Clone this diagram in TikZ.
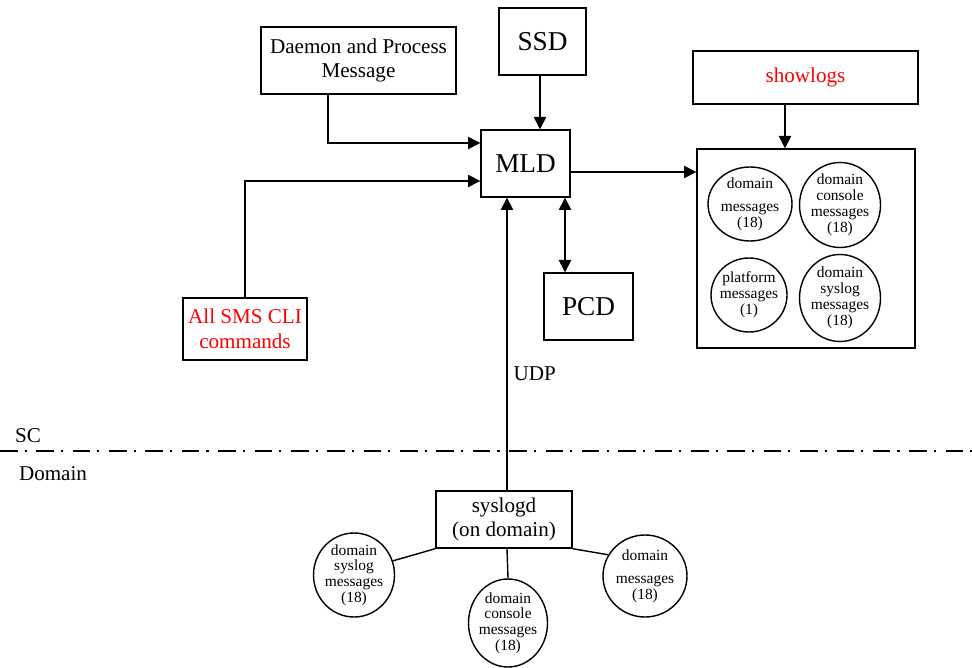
\documentclass[tikz,border=0pt]{standalone}
\usepackage{fontspec}
\setmainfont{Liberation Serif}
\usetikzlibrary{shapes.geometric,arrows.meta}

\begin{document}
\begin{tikzpicture}[x=0.02cm, y=-0.02cm,
  every node/.style={font=\fontsize{12}{14}\selectfont},
  box/.style={draw, thick, rectangle, align=center, inner sep=0pt},
  bigbox/.style={box, font=\fontsize{15.5}{18}\selectfont},
  msg/.style={draw, thick, ellipse, align=center, inner sep=-3pt,
    font=\fontsize{8.8}{9}\selectfont},
  arr/.style={thick, -{Triangle[length=7pt,width=7pt]}},
  link/.style={thick}]

  \useasboundingbox (0,0) rectangle (972,668);

  % SC side: processes feeding the MLD

  \node [box, minimum width=195*0.02cm, minimum height=67*0.02cm]
    (daemon) at (358.5,60.5) {Daemon and Process\\Message};
  \node [bigbox, minimum width=87*0.02cm, minimum height=67*0.02cm]
    (ssd) at (542.5,41.5) {SSD};
  \node [bigbox, minimum width=89*0.02cm, minimum height=67*0.02cm]
    (mld) at (525.5,163.5) {MLD};
  \node [bigbox, minimum width=89*0.02cm, minimum height=67*0.02cm]
    (pcd) at (588.5,306.5) {PCD};
  \node [box, text=red, minimum width=124*0.02cm, minimum height=62*0.02cm]
    (sms) at (245,329) {All SMS CLI\\commands};
  \node [box, text=red, minimum width=225*0.02cm, minimum height=53*0.02cm]
    (showlogs) at (805.5,77.5) {showlogs};

  % Log buffers kept by the MLD

  \node [box, minimum width=218*0.02cm, minimum height=199*0.02cm]
    (logs) at (806,248.5) {};
  \node [msg, minimum width=84*0.02cm, minimum height=74*0.02cm]
    (dmsg) at (750,204) {domain\\[4pt]messages\\(18)};
  \node [msg, minimum width=81*0.02cm, minimum height=85*0.02cm]
    (cmsg) at (840,205) {domain\\console\\messages\\(18)};
  \node [msg, minimum width=76*0.02cm, minimum height=74*0.02cm]
    (pmsg) at (749,295) {platform\\messages\\(1)};
  \node [msg, minimum width=81*0.02cm, minimum height=87*0.02cm]
    (smsg) at (840,298) {domain\\syslog\\messages\\(18)};

  % Boundary between SC and domain

  \node (sc) at (28,436) {SC};
  \node (dom) at (53,474) {Domain};
  \draw [thick, dash pattern=on 10pt off 4pt on 1.2pt off 5.5pt]
    (0,451) -- (972,451);

  % Domain side: syslogd and its messages

  \node [box, minimum width=136*0.02cm, minimum height=57*0.02cm]
    (syslogd) at (504,519.5) {syslogd\\(on domain)};
  \node [msg, minimum width=81*0.02cm, minimum height=84*0.02cm]
    (lsys) at (354,575) {domain\\syslog\\messages\\(18)};
  \node [msg, minimum width=79*0.02cm, minimum height=88*0.02cm]
    (lcon) at (508,623) {domain\\console\\messages\\(18)};
  \node [msg, minimum width=84*0.02cm, minimum height=82*0.02cm]
    (ldom) at (645,576) {domain\\[4pt]messages\\(18)};

  % Connections

  \draw [arr] ([xshift=-0.61cm]daemon.south) |- ([yshift=0.41cm]mld.west);
  \draw [arr] (sms.north) |- ([yshift=-0.35cm]mld.west);
  \draw [arr] ([xshift=-0.05cm]ssd.south) -- ([xshift=-0.05cm]ssd.south |- mld.north);
  \draw [arr] ([yshift=-0.17cm]mld.east) -- ([yshift=-0.17cm]mld.east -| logs.west);
  \draw [arr] ([xshift=-0.41cm]showlogs.south) -- ([xshift=-0.41cm]showlogs.south |- logs.north);
  \draw [arr, {Triangle[length=7pt,width=7pt]}-{Triangle[length=7pt,width=7pt]}]
    ([xshift=-0.47cm]pcd.north) -- ([xshift=-0.47cm]pcd.north |- mld.south);
  \draw [arr] ([xshift=0.06cm]syslogd.north) -- node [right, pos=0.4] (udp) {UDP}
    ([xshift=0.06cm]syslogd.north |- mld.south);

  \draw [link] (syslogd.south west) -- (lsys.20);
  \draw [link] ([xshift=0.06cm]syslogd.south) -- (lcon.north);
  \draw [link] (syslogd.south east) -- (ldom.150);
\end{tikzpicture}
\end{document}
